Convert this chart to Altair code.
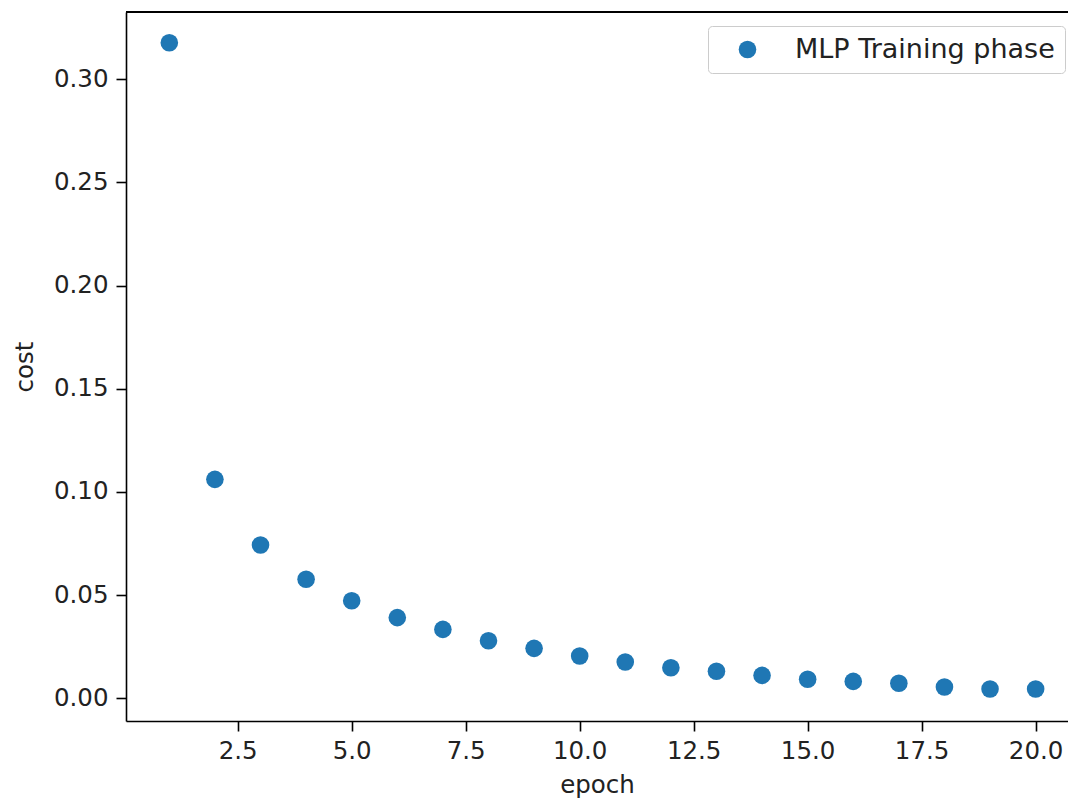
import altair as alt
import pandas as pd

epochs = list(range(1, 21))
cost = [0.3177, 0.1061, 0.0743, 0.0577, 0.0473, 0.0391, 0.0334, 0.0279, 0.0242, 0.0205,
        0.0176, 0.0148, 0.0131, 0.0111, 0.0092, 0.0082, 0.0073, 0.0055, 0.0045, 0.0045]
series_name = "MLP Training phase"
x_ticks = [2.5, 5.0, 7.5, 10.0, 12.5, 15.0, 17.5, 20.0]
y_ticks = [0.0, 0.05, 0.10, 0.15, 0.20, 0.25, 0.30]

df = pd.DataFrame({"epoch": epochs, "cost": cost, "series": [series_name] * len(epochs)})

W, H = 942, 709
FONT = "DejaVu Sans"
FS = 24.5

points = alt.Chart(df).mark_point(filled=True, opacity=1, size=310).encode(
    x=alt.X("epoch:Q", scale=alt.Scale(domain=[0.05, 20.71], nice=False, zero=False),
            axis=alt.Axis(values=x_ticks, format=".1f", title="epoch", grid=False)),
    y=alt.Y("cost:Q", scale=alt.Scale(domain=[-0.011, 0.3326], nice=False, zero=False),
            axis=alt.Axis(values=y_ticks, format=".2f", title="cost", grid=False)),
    color=alt.Color("series:N", scale=alt.Scale(range=["#1f77b4"]),
                    legend=alt.Legend(title=None, orient="none", legendX=582, legendY=14,
                                      symbolType="circle", symbolSize=310, symbolOffset=16,
                                      labelOffset=34, padding=10, strokeColor="#cccccc",
                                      fillColor="white", cornerRadius=4, labelLimit=500,
                                      labelFont=FONT, labelFontSize=27, labelColor="#222222")),
)

border = alt.Chart(df).mark_rule(color="black", strokeWidth=1.6).encode(
    x=alt.value(0), x2=alt.value(W), y=alt.value(0)
)

chart = alt.layer(points, border).properties(
    width=W, height=H,
    autosize=alt.AutoSizeParams(type="none"),
    padding={"left": 118, "top": 4, "right": 0, "bottom": 78},
).configure_view(stroke=None).configure_axis(
    labelFont=FONT, labelFontSize=FS, labelColor="#222222",
    titleFont=FONT, titleFontSize=FS, titleColor="#222222", titleFontWeight="normal",
    domainColor="black", domainWidth=1.6, tickColor="black", tickWidth=1.6, tickSize=10,
    labelPadding=8,
).configure_axisX(titlePadding=11).configure_axisY(titlePadding=16)

chart.save("out.html", embed_options={"renderer": "svg", "actions": False})
